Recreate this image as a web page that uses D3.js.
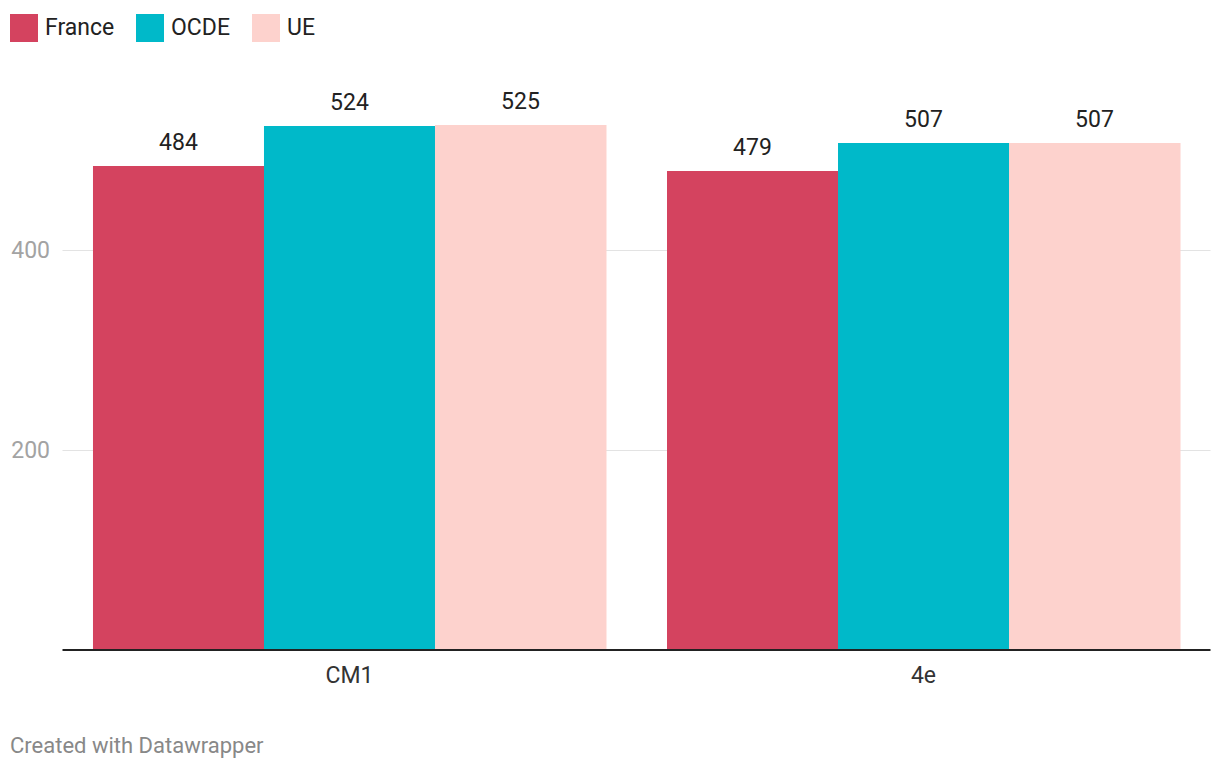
<!DOCTYPE html>
<html><head><meta charset="utf-8">
<script src="https://cdn.jsdelivr.net/npm/d3@7"></script>
<style>body{margin:0;background:#fff;font-family:Roboto,sans-serif;}</style>
</head><body>
<svg id="chart" width="1220" height="772"></svg>
<script>
const categories = ["CM1", "4e"];
const seriesNames = ["France", "OCDE", "UE"];
const colors = ["#d4435f", "#00b9c9", "#fdd2cd"];
const franceValues = [484, 479];
const ocdeValues = [524, 507];
const ueValues = [525, 507];
const yTicks = [200, 400];

(function () {
const seriesValues = [franceValues, ocdeValues, ueValues];
const svg = d3.select("#chart");
const mLeft = 62.5, mRight = 1210.5, mBottom = 650;

const x0 = d3.scaleBand().domain(categories).range([mLeft, mRight]).paddingInner(0.1063).paddingOuter(0.0531);
const x1 = d3.scaleBand().domain(seriesNames).range([0, x0.bandwidth()]).padding(0);
const y = d3.scaleLinear().domain([0, 650]).range([mBottom, mBottom - 650]);

// gridlines
svg.append("g").selectAll("line").data(yTicks).join("line")
  .attr("x1", mLeft).attr("x2", mRight)
  .attr("y1", d => Math.round(y(d)) + 0.5).attr("y2", d => Math.round(y(d)) + 0.5)
  .attr("stroke", "#e3e3e3").attr("stroke-width", 1);
svg.append("g").selectAll("text").data(yTicks).join("text")
  .attr("x", 50).attr("y", d => y(d) + 8)
  .attr("text-anchor", "end").attr("fill", "#a3a3a3")
  .style("font-size", "23px").text(d => d);

// bars
const groups = svg.append("g").selectAll("g").data(categories).join("g")
  .attr("transform", c => `translate(${x0(c)},0)`);
groups.each(function (c, ci) {
  const g = d3.select(this);
  seriesNames.forEach((s, si) => {
    const v = seriesValues[si][ci];
    g.append("rect").attr("x", x1(s)).attr("width", x1.bandwidth() + 0.5)
      .attr("y", y(v)).attr("height", y(0) - y(v)).attr("fill", colors[si]);
    g.append("text").attr("x", x1(s) + x1.bandwidth() / 2).attr("y", y(v) - 16)
      .attr("text-anchor", "middle").attr("fill", "#222")
      .style("font-size", "23px").text(v);
  });
});

// baseline axis
svg.append("line").attr("x1", mLeft).attr("x2", mRight)
  .attr("y1", mBottom).attr("y2", mBottom).attr("stroke", "#222").attr("stroke-width", 2);

// x labels
svg.append("g").selectAll("text").data(categories).join("text")
  .attr("x", c => x0(c) + x0.bandwidth() / 2).attr("y", 683)
  .attr("text-anchor", "middle").attr("fill", "#333")
  .style("font-size", "23px").text(c => c);

// legend
const legendX = [10, 136, 252];
const lg = svg.append("g").selectAll("g").data(seriesNames).join("g")
  .attr("transform", (d, i) => `translate(${legendX[i]},14)`);
lg.append("rect").attr("width", 28).attr("height", 28).attr("fill", (d, i) => colors[i]);
lg.append("text").attr("x", 35).attr("y", 21).attr("fill", "#222")
  .style("font-size", "23px").text(d => d);

// footer
svg.append("text").attr("x", 10).attr("y", 753).attr("fill", "#888")
  .style("font-size", "22px").text("Created with Datawrapper");
})();
</script>
</body></html>
